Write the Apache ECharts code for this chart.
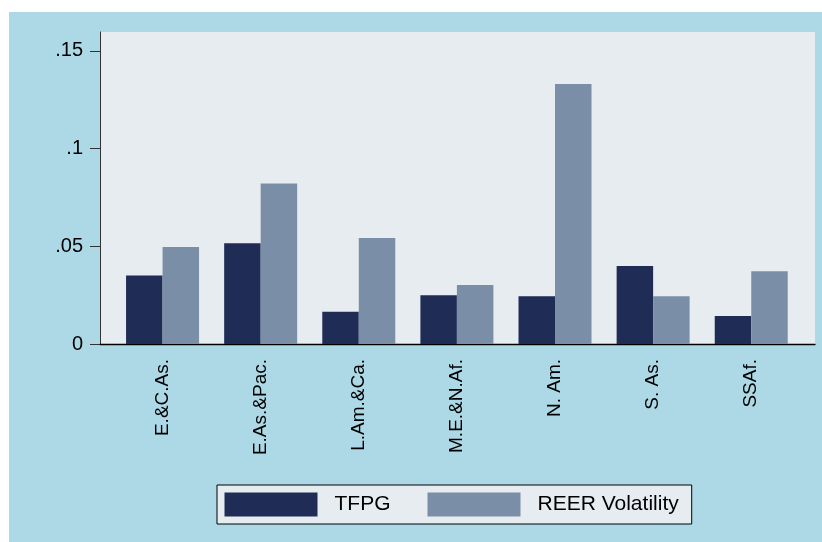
<!DOCTYPE html>
<html>
<head>
<meta charset="utf-8">
<script src="https://cdn.jsdelivr.net/npm/echarts@6/dist/echarts.min.js"></script>
<style>
html,body{margin:0;padding:0;background:#fff;}
#chart{width:822px;height:542px;}
</style>
</head>
<body>
<div id="chart"></div>
<script>
// regions
var regions = ['E.&C.As.', 'E.As.&Pac.', 'L.Am.&Ca.', 'M.E.&N.Af.', 'N. Am.', 'S. As.', 'SSAf.'];
// series values
var tfpg = [0.0350, 0.0516, 0.0165, 0.0249, 0.0244, 0.0399, 0.0143];
var reer = [0.0497, 0.0821, 0.0543, 0.0302, 0.1331, 0.0244, 0.0372];
var yTicks = [0, 0.05, 0.1, 0.15];
var yMax = 0.1597;

var myChart = echarts.init(document.getElementById('chart'));

function fmtY(v) {
	if (v === 0) return '0';
	return String(+v.toFixed(2)).replace(/^0/, '');
}

var option = {
	backgroundColor: '#ffffff',
	animation: false,
	graphic: [{
		type: 'rect',
		z: -10,
		shape: {x: 9, y: 12, width: 813, height: 530},
		style: {fill: '#add8e6'}
	}],
	grid: [
		// plot region background + axes
		{left: 100, right: 7, top: 32, bottom: 198, show: true, backgroundColor: '#e7ecf1', borderWidth: 0},
		// bars
		{left: 113.5, right: 21.7, top: 32, bottom: 198}
	],
	xAxis: [
		{
			gridIndex: 0, type: 'value', min: 0, max: 1,
			axisLine: {show: true, lineStyle: {color: '#000', width: 1.3}},
			axisTick: {show: false}, axisLabel: {show: false}, splitLine: {show: false}
		},
		{
			gridIndex: 1, type: 'category', data: regions,
			axisLine: {show: false}, axisTick: {show: false},
			axisLabel: {
				rotate: 90, margin: 15, color: '#000',
				fontFamily: '"Liberation Sans", Arial, sans-serif',
				fontSize: 19
			}
		}
	],
	yAxis: [
		{
			gridIndex: 0, type: 'value', min: 0, max: yMax,
			axisLine: {show: true, lineStyle: {color: '#333', width: 1}},
			axisTick: {show: true, length: 10, customValues: yTicks, lineStyle: {color: '#333'}},
			axisLabel: {
				customValues: yTicks, margin: 17, color: '#000',
				fontFamily: '"Liberation Sans", Arial, sans-serif', fontSize: 20,
				formatter: fmtY
			},
			splitLine: {show: false}
		},
		{
			gridIndex: 1, type: 'value', min: 0, max: yMax, show: false
		}
	],
	legend: {
		left: 217, top: 485,
		itemWidth: 93, itemHeight: 24, itemGap: 37,
		icon: 'rect',
		padding: [7.5, 13, 7.5, 7.5],
		backgroundColor: '#e7ecf1',
		borderColor: '#000', borderWidth: 1,
		textStyle: {
			color: '#000', fontSize: 21,
			fontFamily: '"Liberation Sans", Arial, sans-serif',
			padding: [0, 0, 0, 12]
		},
		data: ['TFPG', 'REER Volatility']
	},
	series: [
		{
			name: 'TFPG', type: 'bar', xAxisIndex: 1, yAxisIndex: 1,
			barGap: '0%', barCategoryGap: '25.6%',
			itemStyle: {color: '#1f2c55'},
			data: tfpg
		},
		{
			name: 'REER Volatility', type: 'bar', xAxisIndex: 1, yAxisIndex: 1,
			barGap: '0%', barCategoryGap: '25.6%',
			itemStyle: {color: '#7a8fa7'},
			data: reer
		}
	]
};
myChart.setOption(option);
window.addEventListener("resize", function () {
	myChart.resize();
});
</script>
</body>
</html>
